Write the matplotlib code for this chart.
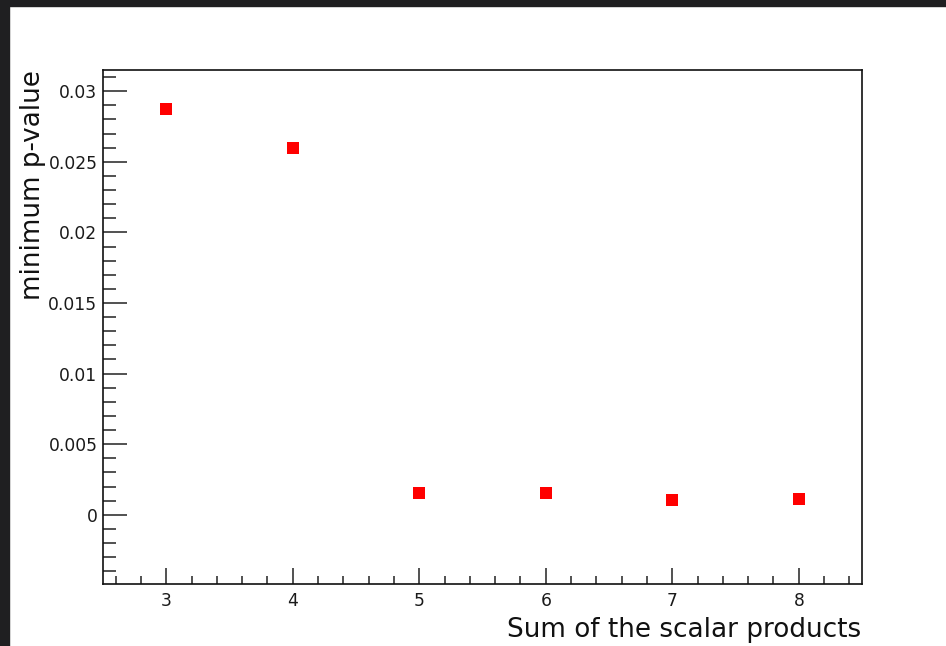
import matplotlib
matplotlib.use("Agg")
import matplotlib.pyplot as plt
from matplotlib.patches import Rectangle
from matplotlib.ticker import MultipleLocator, FuncFormatter

# minimum p-value for each value of the summed scalar products
n_products = [3, 4, 5, 6, 7, 8]
min_pvalue = [0.02875, 0.02597, 0.00154, 0.00154, 0.00104, 0.00113]

plt.rcParams['font.family'] = ['DejaVu Sans']

fig = plt.figure(figsize=(9.46, 6.46), dpi=100)
fig.patch.set_facecolor('white')

# dark window border along top and left
fig.patches.append(Rectangle((0, 1 - 6 / 646), 1, 6 / 646, transform=fig.transFigure,
                             color='#1f1f21', zorder=0))
fig.patches.append(Rectangle((0, 0), 8.5 / 946, 1, transform=fig.transFigure,
                             color='#1f1f21', zorder=0))

ax = fig.add_axes([103 / 946, 62 / 646, 759 / 946, 514 / 646])
ax.plot(n_products, min_pvalue, linestyle='none', marker='s', markersize=9,
        color='#ff0000', markeredgewidth=0)

ax.set_xlim(2.5, 8.5)
ax.set_ylim(-0.0049, 0.0315)

ax.xaxis.set_major_locator(MultipleLocator(1))
ax.xaxis.set_minor_locator(MultipleLocator(0.2))
ax.yaxis.set_major_locator(MultipleLocator(0.005))
ax.yaxis.set_minor_locator(MultipleLocator(0.001))
ax.xaxis.set_major_formatter(FuncFormatter(lambda v, p: '%g' % round(v, 6)))
ax.yaxis.set_major_formatter(FuncFormatter(lambda v, p: '%g' % round(v, 6)))

ax.tick_params(axis='both', which='both', direction='in', top=False, right=False,
               width=1.1, color='#222222', labelsize=12.3, labelcolor='#1a1a1a')
ax.tick_params(axis='y', which='major', length=17, pad=4)
ax.tick_params(axis='y', which='minor', length=9)
ax.tick_params(axis='x', which='major', length=11.5, pad=6)
ax.tick_params(axis='x', which='minor', length=5.8)

for s in ax.spines.values():
    s.set_linewidth(1.2)
    s.set_color('#111111')

fig.text(861 / 946, 16 / 646, 'Sum of the scalar products', ha='right', va='center',
         fontsize=18.9, color='#111111')
fig.text(33 / 946, 1 - 70 / 646, 'minimum p-value', ha='center', va='top',
         rotation=90, fontsize=18.9, color='#111111')

fig.savefig('out.png', dpi=100)
